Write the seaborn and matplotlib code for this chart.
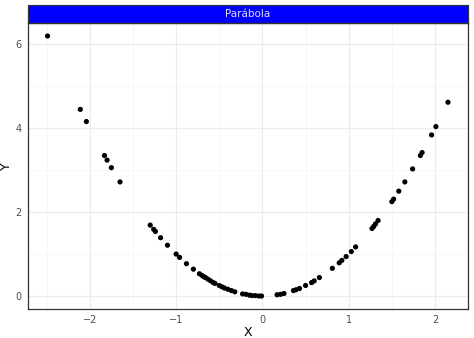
import matplotlib
matplotlib.use("Agg")
import matplotlib.pyplot as plt
import seaborn as sns
import pandas as pd
from matplotlib.patches import Rectangle
from matplotlib.ticker import MultipleLocator

x_vals = [-2.49, -2.11, -2.04, -1.83, -1.80, -1.75, -1.65,
          -1.30, -1.26, -1.24, -1.18, -1.10, -1.00, -0.96, -0.88, -0.80,
          -0.73, -0.70, -0.68, -0.66, -0.63, -0.60, -0.57, -0.55, -0.50,
          -0.47, -0.44, -0.40, -0.36, -0.32, -0.23, -0.19, -0.15, -0.12,
          -0.08, -0.04, -0.01,
          0.17, 0.21, 0.25, 0.36, 0.39, 0.43, 0.50, 0.57, 0.60, 0.66,
          0.81, 0.89, 0.92, 0.97, 1.03, 1.08, 1.27, 1.29, 1.31, 1.34,
          1.50, 1.52, 1.58, 1.65, 1.74, 1.83, 1.85, 1.96, 2.01, 2.15]
y_vals = [6.20, 4.45, 4.16, 3.35, 3.24, 3.06, 2.72,
          1.69, 1.59, 1.54, 1.39, 1.21, 1.00, 0.92, 0.77, 0.64,
          0.53, 0.49, 0.46, 0.44, 0.40, 0.36, 0.32, 0.30, 0.25,
          0.22, 0.19, 0.16, 0.13, 0.10, 0.05, 0.04, 0.02, 0.01,
          0.01, 0.00, 0.00,
          0.03, 0.04, 0.06, 0.13, 0.15, 0.18, 0.25, 0.32, 0.36, 0.44,
          0.66, 0.79, 0.85, 0.94, 1.06, 1.17, 1.61, 1.66, 1.72, 1.80,
          2.25, 2.31, 2.50, 2.72, 3.03, 3.35, 3.42, 3.84, 4.04, 4.62]
x_ticks = [-2, -1, 0, 1, 2]
y_ticks = [0, 2, 4, 6]
facet_label = "Parábola"

df = pd.DataFrame({"X": x_vals, "Y": y_vals})

sns.set_style("white")
plt.rcParams["font.family"] = ["DejaVu Sans"]

W, H = 474, 338
left, right, top, bottom = 27.5, 468, 23, 309
fig = plt.figure(figsize=(W/100, H/100), dpi=100)
ax = fig.add_axes([left/W, (H-bottom)/H, (right-left)/W, (bottom-top)/H])

sns.scatterplot(data=df, x="X", y="Y", ax=ax, color="black", s=14,
                edgecolor="none", linewidth=0, zorder=3)

xr = max(x_vals) - min(x_vals)
yr = max(y_vals) - min(y_vals)
ax.set_xlim(min(x_vals) - 0.05 * xr, max(x_vals) + 0.05 * xr)
ax.set_ylim(min(y_vals) - 0.05 * yr, max(y_vals) + 0.05 * yr)
ax.set_xticks(x_ticks)
ax.set_yticks(y_ticks)
ax.xaxis.set_minor_locator(MultipleLocator(0.5))
ax.yaxis.set_minor_locator(MultipleLocator(1))
ax.grid(True, which="major", color="#EBEBEB", linewidth=0.8, zorder=0)
ax.grid(True, which="minor", color="#F4F4F4", linewidth=0.5, zorder=0)
ax.set_axisbelow(True)
for sp in ax.spines.values():
    sp.set_color("#333333")
    sp.set_linewidth(0.9)
ax.tick_params(axis="both", which="major", length=2.5, width=0.8,
               color="#333333", labelsize=7, labelcolor="#4D4D4D", pad=1.5)
ax.tick_params(axis="both", which="minor", length=0)
ax.set_xlabel("X", fontsize=9, color="black", labelpad=1)
ax.set_ylabel("Y", fontsize=9, color="black", labelpad=2)

# facet strip
sh = (top - 5) / (bottom - top)
strip = Rectangle((0, 1.0), 1, sh, transform=ax.transAxes, facecolor="#0000FF",
                  edgecolor="#333333", linewidth=0.9, clip_on=False)
ax.add_patch(strip)
ax.text(0.5, 1.0 + sh / 2, facet_label, transform=ax.transAxes, ha="center",
        va="center", fontsize=7.5, color="#DDDDFF")

fig.savefig("out.png", dpi=100)
